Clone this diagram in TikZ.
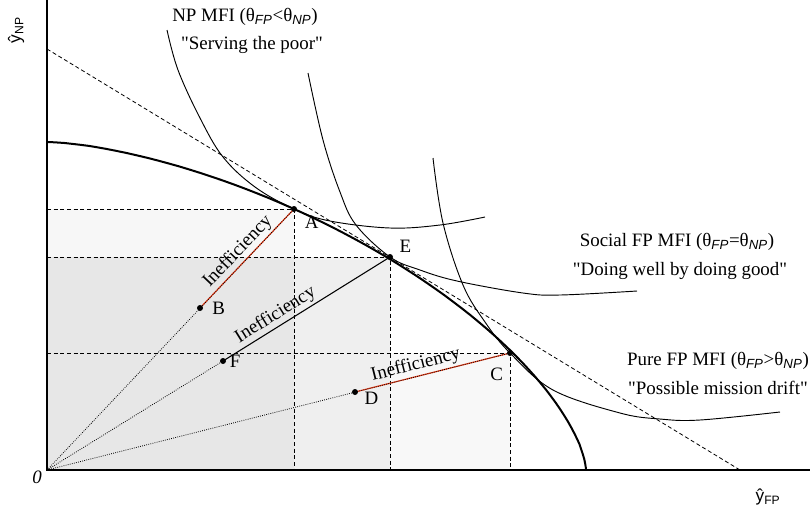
\documentclass[tikz,border=0pt]{standalone}
\usepackage{fontspec}
\setmainfont{Liberation Serif}
\setsansfont{Liberation Sans}
\usepackage{tikz}
\usetikzlibrary{positioning,calc}

\newcommand{\fpsub}{\textsubscript{\sffamily\itshape FP}}
\newcommand{\npsub}{\textsubscript{\sffamily\itshape NP}}
\newcommand{\qq}{\textquotedbl}

\begin{document}
\begin{tikzpicture}[
  x=0.75pt, y=-0.75pt,
  font=\fontsize{14.2}{17}\selectfont,
  axis/.style={line width=1.1pt},
  frontier/.style={line width=1.5pt},
  icurve/.style={line width=0.7pt},
  guide/.style={line width=0.6pt, dash pattern=on 3pt off 2pt},
  ray/.style={line width=0.6pt, densely dotted},
  gap/.style={line width=0.9pt, draw=gapred},
  effline/.style={line width=0.8pt},
  lbl/.style={inner sep=1pt},
  ineff/.style={sloped, above, inner sep=1.5pt}
]
\definecolor{gapred}{HTML}{E8401C}
\definecolor{shadeE}{HTML}{EFEFEF}
\definecolor{shadeC}{HTML}{F8F8F8}
\useasboundingbox (0,0) rectangle (810,512);

% points
\coordinate (O) at (47,470);
\coordinate (ytop) at (47,0);
\coordinate (xend) at (810,470);
\coordinate (A) at (294,209);
\coordinate (B) at (200,308);
\coordinate (C) at (510,353);
\coordinate (D) at (355,392);
\coordinate (E) at (390,257);
\coordinate (F) at (223,361);
\coordinate (tanTop) at (47,49);
\coordinate (tanEnd) at (740,470);

% shaded boxes
\fill[shadeC] (O) rectangle (C);
\fill[shadeE] (O) rectangle (E);
\fill[black, fill opacity=0.03] (O) rectangle (A);

% guides
\draw[guide] (O |- A) -- (A) -- (A |- O);
\draw[guide] (O |- E) -- (E) -- (E |- O);
\draw[guide] (O |- C) -- (C) -- (C |- O);

% rays and gaps
\draw[gap] (B) -- (A) node[ineff, pos=0.49] (ineffA) {Inefficiency};
\draw[effline] (F) -- (E) node[ineff, pos=0.35] (ineffE) {Inefficiency};
\draw[gap] (D) -- (C) node[ineff, pos=0.41] (ineffC) {Inefficiency};
\draw[ray] (O) -- (A);
\draw[ray] (O) -- (F);
\draw[ray] (O) -- (C);

% indifference curves
\draw[icurve] plot[smooth, tension=0.6] coordinates {(167,30) (178,70) (200,118) (223,157) (255,187) (294,209) (330,221) (390,228) (440,225) (485,217)};
\draw[icurve] plot[smooth, tension=0.6] coordinates {(308,73) (323,140) (340,192) (356,225) (390,257) (420,270) (457,281) (523,293) (560,295) (637,291)};
\draw[icurve] plot[smooth, tension=0.6] coordinates {(433,158) (443,223) (463,285) (485,322) (510,353) (553,390) (620,413) (660,419) (700,420) (780,412)};

% frontier and tangent
\draw[frontier] plot[domain=0.01:89.99, samples=70, variable=\t]
  ({47+539*pow(cos(\t),1.29)}, {470-328*pow(sin(\t),1.29)});
\draw[guide] (tanTop) -- (tanEnd);

% axes
\draw[axis] (ytop) -- (O) -- (xend);

% points
\foreach \p in {A,B,C,D,E,F}
  \fill (\p) circle[radius=3];

\node[lbl, below right=4pt and 7pt of A] (labA) {A};
\node[lbl, right=8pt of B] (labB) {B};
\node[lbl, below left=10pt and 4pt of C] (labC) {C};
\node[lbl, below right=-1pt and 6pt of D] (labD) {D};
\node[lbl, above right=2pt and 6pt of E] (labE) {E};
\node[lbl, right=4pt of F] (labF) {F};

% texts
\node (npTitle) at (245,17) {NP MFI (θ\fpsub<θ\npsub)};
\node (npQuote) at (252,45) {\qq Serving the poor\qq};
\node (socTitle) at (677,242) {Social FP MFI (θ\fpsub=θ\npsub)};
\node (socQuote) at (680,271) {\qq Doing well by doing good\qq};
\node (pureTitle) at (718,361) {Pure FP MFI (θ\fpsub>θ\npsub)};
\node (pureQuote) at (718,388) {\qq Possible mission drift\qq};

\node[font=\sffamily\fontsize{13}{15}\selectfont, rotate=90] (ylab) at (16,30) {ŷ\textsubscript{NP}};
\node[font=\sffamily\fontsize{13}{15}\selectfont] (xlab) at (768,497) {ŷ\textsubscript{FP}};
\node[font=\fontsize{14.2}{17}\selectfont\itshape] (zero) at (37,477) {0};
\end{tikzpicture}
\end{document}
